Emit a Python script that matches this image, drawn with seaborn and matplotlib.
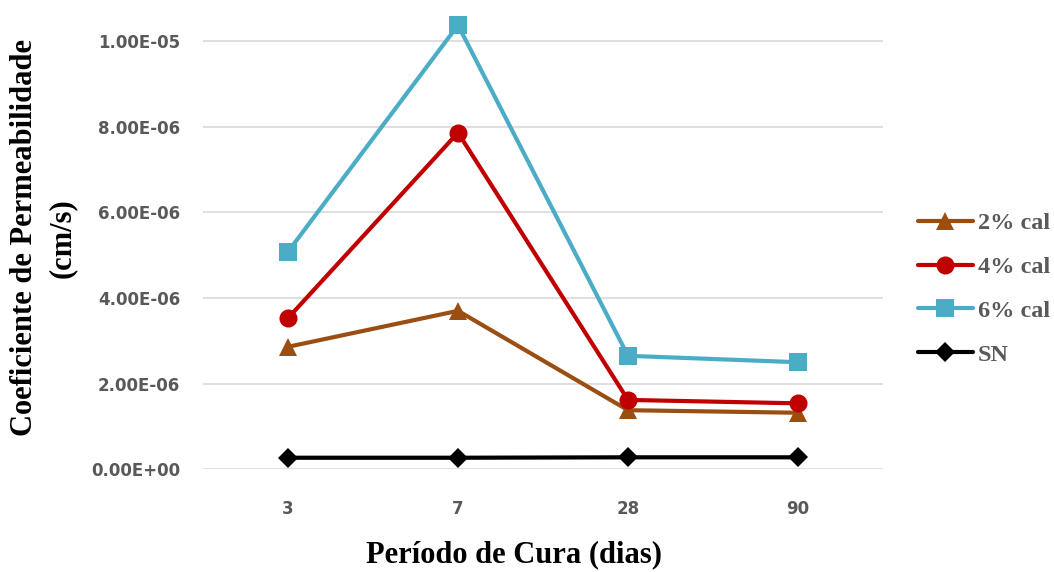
import matplotlib
matplotlib.use("Agg")
import matplotlib.pyplot as plt
import seaborn as sns
import pandas as pd
from matplotlib.ticker import FixedLocator, FuncFormatter

# Curing period (days) and permeability coefficient (cm/s) per lime content
dias = ["3", "7", "28", "90"]
cal_2 = [2.86e-6, 3.70e-6, 1.38e-6, 1.32e-6]
cal_4 = [3.53e-6, 7.86e-6, 1.62e-6, 1.54e-6]
cal_6 = [5.08e-6, 10.37e-6, 2.65e-6, 2.50e-6]
sn = [0.27e-6, 0.27e-6, 0.28e-6, 0.28e-6]
series = ["2% cal", "4% cal", "6% cal", "SN"]
yticks = [0.0, 2e-6, 4e-6, 6e-6, 8e-6, 1e-5]

colors = ["#9A4E12", "#C00000", "#4BACC6", "#000000"]
markers = ["^", "o", "s", "D"]
msizes = [12.5, 13, 12.5, 10.5]

rows = []
for name, vals in zip(series, [cal_2, cal_4, cal_6, sn]):
    for d, v in zip(dias, vals):
        rows.append({"dias": d, "k": v, "serie": name})
df = pd.DataFrame(rows)

sns.set_theme(style="white")
fig = plt.figure(figsize=(10.54, 5.72), dpi=100)
ax = fig.add_axes([203 / 1054, 1 - 469.3 / 572, 680 / 1054, 469.3 / 572])

sns.pointplot(
    data=df, x="dias", y="k", hue="serie", order=dias, hue_order=series,
    palette=colors, markers=markers, linestyles="-", errorbar=None,
    linewidth=3.0, markersize=12, ax=ax, legend=False,
)

# per-series marker sizes
line_objs = [l for l in ax.lines if len(l.get_xdata()) == len(dias)]
for l, ms in zip(line_objs, msizes):
    l.set_markersize(ms)
    l.set_markeredgewidth(0)

ax.set_xlim(-0.5, 3.5)
ax.set_ylim(0, 469.3 / 42.83 * 1e-6)
ax.yaxis.set_major_locator(FixedLocator(yticks))
ax.yaxis.set_major_formatter(FuncFormatter(lambda v, p: f"{v:.2E}"))
ax.grid(axis="y", color="#D9D9D9", linewidth=1.2)
ax.grid(axis="x", visible=False)
ax.set_axisbelow(True)
for s in ax.spines.values():
    s.set_visible(False)

tick_font = dict(family="DejaVu Sans", weight="bold", size=12, color="#595959")
ax.tick_params(axis="y", length=0, pad=16.5)
ax.tick_params(axis="x", length=0, pad=22)
for t in ax.get_yticklabels() + ax.get_xticklabels():
    t.set_fontfamily(tick_font["family"])
    t.set_fontweight(tick_font["weight"])
    t.set_fontsize(tick_font["size"])
    t.set_color(tick_font["color"])

serif = dict(family="Liberation Serif", weight="bold", size=22, color="black")
ax.set_xlabel("Período de Cura (dias)", **serif)
ax.xaxis.set_label_coords((514 - 203) / 680, (469.3 - 540) / 469.3)
ax.set_ylabel("Coeficiente de Permeabilidade\n(cm/s)", linespacing=1.4, **serif)
ax.yaxis.set_label_coords((77 - 203) / 680, (469.3 - 238) / 469.3)

handles = [
    plt.Line2D([], [], color=c, marker=m, markersize=ms, markeredgewidth=0, linewidth=3.0)
    for c, m, ms in zip(colors, markers, msizes)
]
leg = fig.legend(
    handles, series, loc="center left",
    bbox_to_anchor=(918 / 1054, 1 - 289 / 572),
    frameon=False, handlelength=2.25, handletextpad=0.2, labelspacing=0.9,
    borderpad=0, borderaxespad=0,
    prop=dict(family="Liberation Serif", weight="bold", size=17.5),
)
for t in leg.get_texts():
    t.set_color("#595959")

fig.savefig("out.png", dpi=100)
